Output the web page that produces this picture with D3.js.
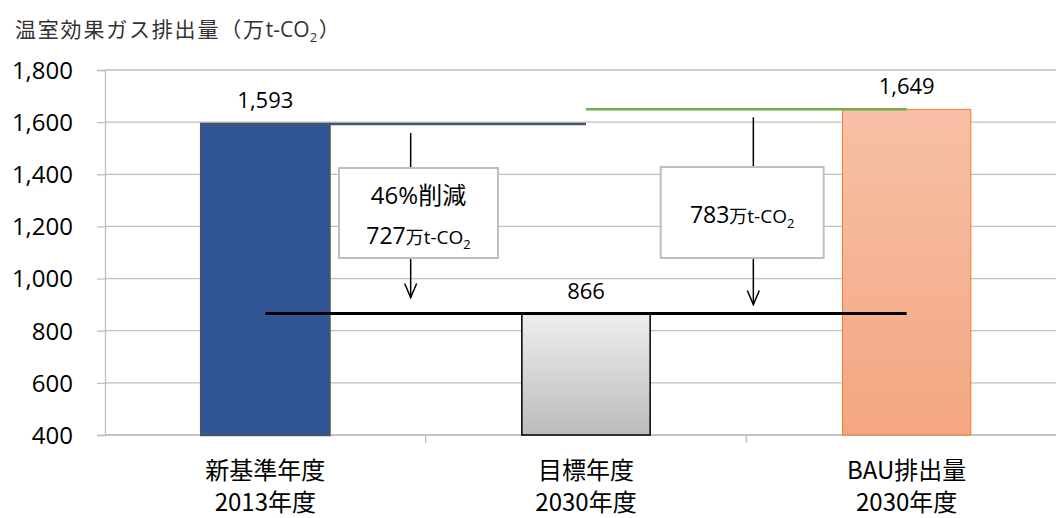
<!DOCTYPE html>
<html><head><meta charset="utf-8">
<script src="https://cdn.jsdelivr.net/npm/d3@7"></script>
<style>body{margin:0;background:#fff}svg{display:block}</style>
</head><body>
<svg id="c" width="1056" height="518"></svg>
<script>
const categories = [["新基準年度","2013年度"],["目標年度","2030年度"],["BAU排出量","2030年度"]];
const values = [1593, 866, 1649];
const valueLabels = ["1,593","866","1,649"];
const yTicks = [400,600,800,1000,1200,1400,1600,1800];
const reductions = [{pct:"46%", pctJP:"削減", amount:"727"}, {pct:null, amount:"783"}];

(function(){
const svg = d3.select("#c");
const W = 1056, H = 518;
const pl = 105, pr = 1067, pt = 70, pb = 435;
const y = d3.scaleLinear().domain([400,1800]).range([pb, pt]);
const x = d3.scaleBand().domain(d3.range(categories.length)).range([pl, pr]).padding(0);
const bw = x.bandwidth()*0.4;
const cx = i => x(i) + x.bandwidth()/2;
const fontNum = "'Open Sans','Noto Sans CJK JP',sans-serif";
const fontJP = "'Noto Sans CJK JP',sans-serif";

const defs = svg.append("defs");
const g2 = defs.append("linearGradient").attr("id","gGray").attr("x1",0).attr("y1",0).attr("x2",0).attr("y2",1);
g2.append("stop").attr("offset","0%").attr("stop-color","#eeeeee");
g2.append("stop").attr("offset","100%").attr("stop-color","#bcbcbc");
const g3 = defs.append("linearGradient").attr("id","gOrange").attr("x1",0).attr("y1",0).attr("x2",0).attr("y2",1);
g3.append("stop").attr("offset","0%").attr("stop-color","#f7c0a6");
g3.append("stop").attr("offset","100%").attr("stop-color","#f4a681");

// title
svg.append("text").attr("x",15).attr("y",37).attr("font-family",fontJP).attr("font-size",21).attr("fill","#333").attr("letter-spacing",1.8)
  .html('温室効果ガス排出量（万<tspan font-family="Open Sans" letter-spacing="0">t-CO</tspan><tspan font-family="Open Sans" font-size="13" dy="5">2</tspan><tspan dy="-5">）</tspan>');

// gridlines
svg.append("g").selectAll("line").data(yTicks).join("line")
  .attr("x1",pl).attr("x2",W).attr("y1",d=>y(d)).attr("y2",d=>y(d))
  .attr("stroke","#bfbfbf").attr("stroke-width",1.3);

// y axis
const yAxis = d3.axisLeft(y).tickValues(yTicks).tickFormat(d3.format(",")).tickSize(8).tickPadding(24);
const ya = svg.append("g").attr("transform",`translate(${pl},0)`).call(yAxis);
ya.select(".domain").attr("stroke","#bfbfbf").attr("stroke-width",1.3);
ya.selectAll(".tick line").attr("stroke","#bfbfbf").attr("stroke-width",1.3);
ya.selectAll("text").attr("font-family",fontNum).attr("font-size",24).attr("fill","#000").attr("dy","0.35em");

// x axis
const xa = svg.append("g").attr("transform",`translate(0,${pb})`);
xa.append("line").attr("x1",pl).attr("x2",W).attr("stroke","#bfbfbf").attr("stroke-width",1.3);
xa.selectAll("line.t").data(d3.range(1,categories.length)).join("line").attr("class","t")
  .attr("x1",d=>x(d)).attr("x2",d=>x(d)).attr("y1",0).attr("y2",8).attr("stroke","#bfbfbf").attr("stroke-width",1.3);
categories.forEach((c,i)=>{
  c.forEach((s,j)=>{
    svg.append("text").attr("x",cx(i)).attr("y",479+j*32).attr("text-anchor","middle")
      .attr("font-family",fontJP).attr("font-size",24).attr("fill","#000").text(s);
  });
});

// bars
const fills = ["#2f5597","url(#gGray)","url(#gOrange)"];
const strokes = ["#44546a","#000","#ed7d31"];
const sw = [2.5,1.5,1];
svg.append("g").selectAll("rect").data(values).join("rect")
  .attr("x",(d,i)=>cx(i)-bw/2).attr("width",bw)
  .attr("y",d=>y(d)).attr("height",d=>pb-y(d))
  .attr("fill",(d,i)=>fills[i]).attr("stroke",(d,i)=>strokes[i]).attr("stroke-width",(d,i)=>sw[i]);

// reference lines
svg.append("line").attr("x1",cx(0)+bw/2).attr("x2",cx(1)).attr("y1",y(values[0])).attr("y2",y(values[0]))
  .attr("stroke","#44546a").attr("stroke-width",2.5);
svg.append("line").attr("x1",cx(1)).attr("x2",cx(2)).attr("y1",y(values[2])).attr("y2",y(values[2]))
  .attr("stroke","#70ad47").attr("stroke-width",2.5);
svg.append("line").attr("x1",cx(0)).attr("x2",cx(2)).attr("y1",y(values[1])).attr("y2",y(values[1]))
  .attr("stroke","#000").attr("stroke-width",3);

// value labels
const labOff = [16, 15, 15];
values.forEach((v,i)=>{
  svg.append("text").attr("x",cx(i)).attr("y",y(v)-labOff[i]).attr("text-anchor","middle")
    .attr("font-family",fontNum).attr("font-size",22).attr("fill","#000").text(valueLabels[i]);
});

// arrows and boxes
const arrowDefs = [
  {x: x(1)-15, top: y(values[0])+9, bot: y(values[1])-16, bx0: x(0)+234, bx1: x(0)+393, by0:168, by1:258, ty: 212},
  {x: x(2)+7, top: y(values[2])+8, bot: y(values[1])-9, bx0: x(1)+235, bx1: x(1)+398, by0:167, by1:258, ty: 223}
];
arrowDefs.forEach((a,i)=>{
  svg.append("line").attr("x1",a.x).attr("x2",a.x).attr("y1",a.top).attr("y2",a.bot).attr("stroke","#000").attr("stroke-width",1.5);
  svg.append("path").attr("d",`M${a.x-6},${a.bot-14}L${a.x},${a.bot}L${a.x+6},${a.bot-14}`)
    .attr("fill","none").attr("stroke","#000").attr("stroke-width",1.5);
  svg.append("rect").attr("x",a.bx0).attr("y",a.by0).attr("width",a.bx1-a.bx0).attr("height",a.by1-a.by0)
    .attr("fill","#fff").attr("stroke","#bfbfbf").attr("stroke-width",2);
  const mid = (a.bx0+a.bx1)/2;
  const r = reductions[i];
  const amt = `${r.amount}<tspan font-family="Noto Sans CJK JP" font-size="18">万</tspan><tspan font-size="19">t-CO</tspan><tspan font-size="13" dy="5">2</tspan>`;
  if (r.pct) {
    svg.append("text").attr("x",mid).attr("y",204).attr("text-anchor","middle").attr("font-family",fontNum)
      .attr("font-size",24).attr("fill","#000").html(`${r.pct}<tspan font-family="Noto Sans CJK JP">${r.pctJP}</tspan>`);
    svg.append("text").attr("x",mid).attr("y",244).attr("text-anchor","middle").attr("font-family",fontNum)
      .attr("font-size",23).attr("fill","#000").html(amt);
  } else {
    svg.append("text").attr("x",mid).attr("y",a.ty).attr("text-anchor","middle").attr("font-family",fontNum)
      .attr("font-size",23).attr("fill","#000").html(amt);
  }
});
})();
</script>
</body></html>
